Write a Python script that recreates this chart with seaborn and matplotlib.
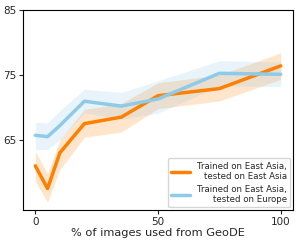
import matplotlib
matplotlib.use("Agg")
import matplotlib.pyplot as plt
import seaborn as sns
import pandas as pd

pct = [0, 5, 10, 20, 35, 50, 75, 100]
ea_mean = [61.0, 57.5, 63.0, 67.5, 68.5, 71.8, 72.9, 76.4]
ea_low = [58.6, 55.4, 60.4, 65.4, 66.2, 69.8, 71.0, 74.3]
ea_high = [63.2, 59.8, 65.0, 69.7, 70.6, 73.8, 75.0, 78.4]
eu_mean = [65.7, 65.5, 67.2, 70.95, 70.2, 71.3, 75.25, 75.1]
eu_low = [63.5, 63.5, 65.0, 69.15, 68.2, 69.1, 73.3, 73.2]
eu_high = [67.7, 67.6, 69.5, 72.8, 72.3, 74.1, 77.2, 77.0]

label_ea = "Trained on East Asia,\ntested on East Asia"
label_eu = "Trained on East Asia,\ntested on Europe"
c_ea = "#ff8000"
c_eu = "#8ecbe8"

sns.set_style("white")
plt.rcParams['font.family'] = ['DejaVu Sans']

fig = plt.figure(figsize=(2.99, 2.45), dpi=100)
ax = fig.add_axes([0.077, 0.143, 0.903, 0.816])

df = pd.DataFrame({
    "pct": pct * 2,
    "acc": ea_mean + eu_mean,
    "series": [label_ea] * len(pct) + [label_eu] * len(pct),
})
sns.lineplot(data=df, x="pct", y="acc", hue="series",
             palette={label_ea: c_ea, label_eu: c_eu},
             linewidth=2.5, ax=ax)
ax.fill_between(pct, ea_low, ea_high, color=c_ea, alpha=0.2, linewidth=0)
ax.fill_between(pct, eu_low, eu_high, color=c_eu, alpha=0.2, linewidth=0)

ax.set_xlim(-5, 105)
ax.set_ylim(54.2, 85)
ax.set_xticks([0, 50, 100])
ax.set_yticks([65, 75, 85])
ax.tick_params(axis='both', labelsize=7.5, length=3, width=0.8, direction='out',
               bottom=True, left=True, pad=2)
ax.set_xlabel("% of images used from GeoDE", fontsize=8.2, labelpad=1)
ax.set_ylabel("")
for s in ax.spines.values():
    s.set_color("black")
    s.set_linewidth(0.8)

leg = ax.legend(loc="lower right", fontsize=6.2, frameon=True,
                handlelength=2.2, borderpad=0.4, labelspacing=0.4,
                handletextpad=0.8, borderaxespad=0.3)
for t in leg.get_texts():
    t.set_multialignment('right')

fig.savefig("out.png", dpi=100)
